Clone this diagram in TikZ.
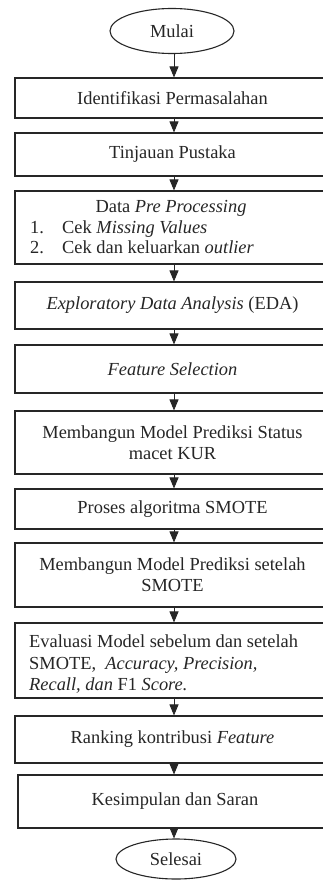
\documentclass[tikz,border=0pt]{standalone}
\usepackage{fontspec}
\setmainfont{Liberation Serif}
\usetikzlibrary{arrows.meta,shapes.geometric}
\newcommand{\fsz}{\fontsize{18.4}{21}\selectfont}
\tikzset{
  box/.style={draw=black!85, line width=1.1pt, rectangle, minimum width=315pt,
    inner sep=0pt, text=black!85, font=\fsz, align=center},
  term/.style={draw=black!85, line width=1.1pt, ellipse, inner sep=0pt,
    text=black!85, font=\fsz},
  txt/.style={inner sep=0pt, text=black!85, font=\fsz},
  arr/.style={draw=black!85, line width=0.9pt, -{Triangle[width=9pt,length=11pt]}},
}
\begin{document}
\begin{tikzpicture}[x=1pt,y=-1pt]
\useasboundingbox (0,0) rectangle (323,880);
\clip (0,0) rectangle (323,880);
\fill[white] (0,0) rectangle (323,880);
\coordinate (ax) at (174,0);

\node[term, minimum width=124pt, minimum height=45pt] (start) at (172,31) {Mulai};
\node[box, minimum height=40pt] (b1) at (172.5,98) {Identifikasi Permasalahan};
\node[box, minimum height=43pt] (b2) at (172.5,154.5) {Tinjauan Pustaka};
\node[box, minimum height=73pt] (b3) at (172.5,227.5) {};
\node[txt, anchor=base] (b3t) at (171,212) {Data \textit{Pre Processing}};
\node[txt, anchor=base west] (b3n1) at (30,233) {1.};
\node[txt, anchor=base west] (b3i1) at (62,233) {Cek \textit{Missing Values}};
\node[txt, anchor=base west] (b3n2) at (30,253) {2.};
\node[txt, anchor=base west] (b3i2) at (62,253) {Cek dan keluarkan \textit{outlier}};
\node[box, minimum height=47pt] (b4) at (172.5,305.5) {\textit{Exploratory Data Analysis} (EDA)};
\node[box, minimum height=48pt] (b5) at (172.5,369) {\textit{Feature Selection}};
\node[box, minimum height=63pt] (b6) at (172.5,442.5) {Membangun Model Prediksi Status\\macet KUR};
\node[box, minimum height=40pt] (b7) at (172.5,509) {Proses algoritma SMOTE};
\node[box, minimum height=64pt] (b8) at (172.5,575) {Membangun Model Prediksi setelah\\SMOTE};
\node[box, minimum height=75pt] (b9) at (172.5,660.5) {};
\node[txt, anchor=base west] (b9l1) at (29,647) {Evaluasi Model sebelum dan setelah};
\node[txt, anchor=base west] (b9l2) at (29,669) {SMOTE,\ \ \textit{Accuracy, Precision,}};
\node[txt, anchor=base west] (b9l3) at (29,690) {\textit{Recall, dan} F1 \textit{Score.}};
\node[box, minimum height=47pt] (b10) at (172.5,739.5) {Ranking kontribusi \textit{Feature}};
\node[box, minimum height=53pt, minimum width=314pt] (b11) at (175,801.5) {Kesimpulan dan Saran};
\node[term, minimum width=120pt, minimum height=40pt] (stop) at (176,859) {Selesai};

\draw[arr] (start.south -| ax) -- (b1.north -| ax);
\draw[arr] (b1.south -| ax) -- (b2.north -| ax);
\draw[arr] (b2.south -| ax) -- (b3.north -| ax);
\draw[arr] (b3.south -| ax) -- (b4.north -| ax);
\draw[arr] (b4.south -| ax) -- (b5.north -| ax);
\draw[arr] (b5.south -| ax) -- (b6.north -| ax);
\draw[arr] (b6.south -| ax) -- (b7.north -| ax);
\draw[arr] (b7.south -| ax) -- (b8.north -| ax);
\draw[arr] (b8.south -| ax) -- (b9.north -| ax);
\draw[arr] (b9.south -| ax) -- (b10.north -| ax);
\draw[arr] (b10.south -| ax) -- (b11.north -| ax);
\draw[arr] (b11.south -| ax) -- (stop.north -| ax);
\end{tikzpicture}
\end{document}
